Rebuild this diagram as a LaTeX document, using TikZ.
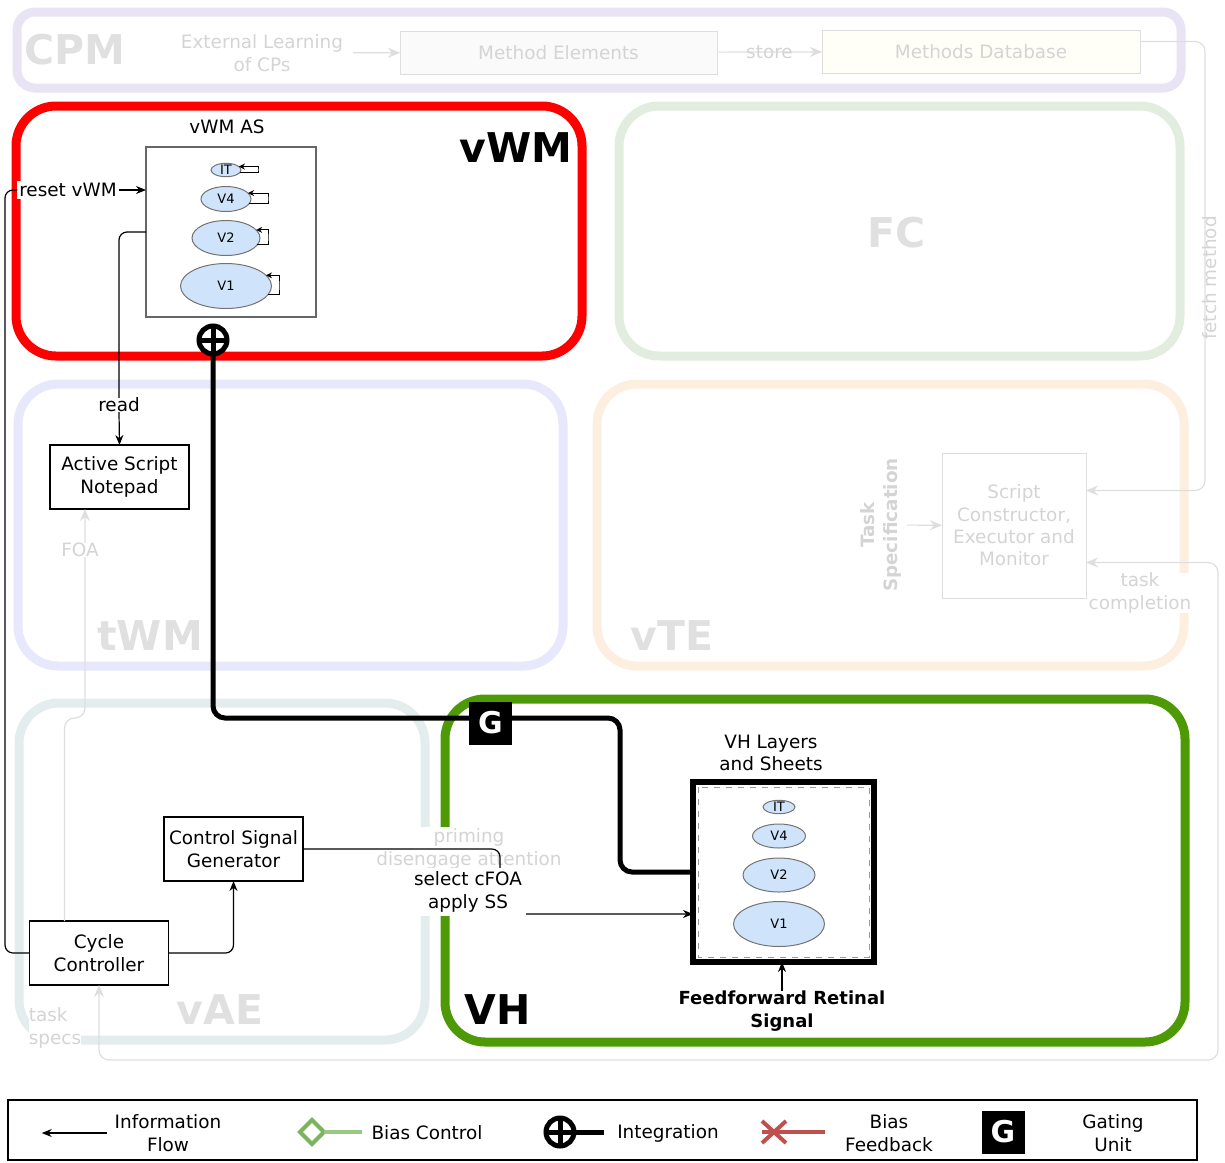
\documentclass[tikz,border=0pt]{standalone}
\usepackage{fontspec}
\setmainfont{DejaVu Sans}
\usetikzlibrary{positioning, arrows.meta, shapes.geometric, calc}

\definecolor{vwmred}{RGB}{255,0,0}
\definecolor{vhgreen}{RGB}{78,154,6}
\definecolor{cpmline}{RGB}{233,228,243}
\definecolor{fcline}{RGB}{226,237,223}
\definecolor{twmline}{RGB}{232,232,252}
\definecolor{vteline}{RGB}{253,239,224}
\definecolor{vaeline}{RGB}{228,237,237}
\definecolor{fadetext}{RGB}{212,212,212}
\definecolor{fadebig}{RGB}{224,224,224}
\definecolor{fadeline}{RGB}{222,222,222}
\definecolor{layerfill}{RGB}{207,228,250}
\definecolor{biasgreen}{RGB}{122,180,92}
\definecolor{biasred}{RGB}{192,80,77}

\begin{document}
\begin{tikzpicture}[x=0.5pt,y=-0.5pt,every node/.style={inner sep=0pt,outer sep=0pt},font=\fontsize{9.2}{11.3}\selectfont,
    region/.style={draw,rounded corners=20pt,line width=4.5pt},
    biglbl/.style={font=\fontsize{20.5}{24}\selectfont\bfseries},
    fadelbl/.style={biglbl,text=fadebig},
    box/.style={draw,line width=0.6pt,align=center,minimum width=69.5pt,minimum height=32pt},
    fadebox/.style={draw=fadeline,line width=0.5pt,align=center,text=fadetext},
    fadetxt/.style={text=fadetext,align=center},
    layer/.style={ellipse,draw=black!55,fill=layerfill,line width=0.5pt,font=\fontsize{6.5}{7}\selectfont},
    flow/.style={-{Stealth[length=5pt,width=4pt]},line width=0.6pt},
    fadeflow/.style={-{Stealth[length=6pt,width=5pt]},draw=fadeline,line width=0.6pt},
    integ/.style={circle,draw,line width=2.5pt,minimum size=14pt,
        path picture={\draw[line width=2.5pt] (path picture bounding box.north) -- (path picture bounding box.south)
            (path picture bounding box.west) -- (path picture bounding box.east);}},
    integline/.style={line width=2.5pt},
    gate/.style={fill=black,text=white,minimum size=21.5pt,font=\fontsize{15}{15}\selectfont\bfseries}]
        \useasboundingbox (0,0) rectangle (1225,1162);
        % 区域
        \node[region,draw=cpmline,rounded corners=9pt,minimum width=582pt,minimum height=38pt] (cpm) at (599,50) {};
        \node[region,draw=vwmred,minimum width=283pt,minimum height=125pt] (vwm) at (299,231) {};
        \node[region,draw=fcline,minimum width=280.5pt,minimum height=125pt] (fc) at (899.5,231) {};
        \node[region,draw=twmline,minimum width=272.5pt,minimum height=141pt] (twm) at (290.5,525) {};
        \node[region,draw=vteline,minimum width=293.5pt,minimum height=141pt] (vte) at (890.5,525) {};
        \node[region,draw=vaeline,minimum width=203pt,minimum height=168.5pt] (vae) at (222,871.5) {};
        \node[region,draw=vhgreen,minimum width=370pt,minimum height=171.5pt] (vh) at (815,870.5) {};
        % 区域名称
        \node[fadelbl] (cpmlbl) at (75,50) {CPM};
        \node[biglbl] (vwmlbl) at (516,148) {vWM};
        \node[fadelbl] (fclbl) at (897,233) {FC};
        \node[fadelbl] (twmlbl) at (150,636) {tWM};
        \node[fadelbl] (vtelbl) at (672,636) {vTE};
        \node[fadelbl] (vaelbl) at (220,1010) {vAE};
        \node[biglbl] (vhlbl) at (498,1010) {VH};
        % CPM
        \node[fadetxt] (extlearn) at (262,53) {External Learning\\of CPs};
        \node[fadebox,fill=black!2,minimum width=158.5pt,minimum height=21.5pt] (methodel) at (558.5,52.5) {Method Elements};
        \node[fadebox,fill=yellow!3,minimum width=159pt,minimum height=21.5pt] (methodsdb) at (981,51.5) {Methods Database};
        \draw[fadeflow,shorten <=5pt] (extlearn) -- (methodel);
        \draw[fadeflow] (methodel) -- node[fadetxt] (storelbl) {store} (methodsdb);
        % vTE
        \node[fadebox,minimum width=72pt,minimum height=72.5pt,font=\fontsize{9.2}{11.2}\selectfont] (scm) at (1014,525.5) {Script\\Constructor,\\Executor and\\Monitor};
        \node[fadetxt,font=\fontsize{9.2}{11.3}\selectfont\bfseries,rotate=90] (taskspec) at (881,525) {Task\\Specification};
        \draw[fadeflow,shorten <=3pt] (taskspec) -- (scm);
        \draw[fadeflow,rounded corners=5pt] ($(methodsdb.east)+(0,-10)$) -- ++(65,0) |- ($(scm.east)+(0,-35)$);
        \node[fadetxt,rotate=90] (fetchlbl) at (1210,278) {fetch method};
        % tWM / vAE
        \node[box] (notepad) at (119.5,477) {Active Script\\Notepad};
        \node[box] (csg) at (233.5,849) {Control Signal\\Generator};
        \node[box] (cycle) at (99,953) {Cycle\\Controller};
        \draw[fadeflow,rounded corners=5pt] ($(cycle.north west)+(35,0)$) -- ++(0,-203) -| ($(notepad.south west)+(35,0)$);
        \node[fadetxt,fill=white] (foalbl) at (80,550) {FOA};
        \draw[fadeflow,{Stealth[length=6pt,width=5pt]}-{Stealth[length=6pt,width=5pt]},rounded corners=5pt] (cycle.south) -- ++(0,75) -| ($(scm.east)+(132,37)$) -- ($(scm.east)+(0,37)$);
        \node[fadetxt,fill=white] (taskdone) at (1140,593) {task\\completion};
        \node[fadetxt,fill=white,align=left] (taskspecs) at (55,1028) {task\\specs};
        % vWM AS
        \node (asttl) at (227,127) {vWM AS};
        \node[draw=black!60,line width=0.6pt,minimum size=85pt] (vwmas) at (231,232) {};
        \foreach \lab/\yy/\w/\h/\lx in {IT/170/30/13/258,V4/199/50/25/268,V2/238/68/35/268,V1/286/91/45/279} {
            \node[layer,minimum width=\w*0.5pt,minimum height=\h*0.5pt] (as-\lab) at (226,\yy) {\lab};
            \draw[-{Stealth[length=3pt,width=3pt]},line width=0.5pt] (as-\lab.-12) -| (\lx,\yy) |- (as-\lab.15);
        }
        \node[integ] (integ) at (213,340) {};
        % VH 层
        \node[align=center] (vhttl) at (771,753) {VH Layers\\and Sheets};
        \node[draw,line width=3pt,minimum width=90.5pt,minimum height=90pt] (vhlayers) at (783.5,872) {};
        \draw[black!40,dashed,line width=0.5pt] ($(vhlayers.north west)+(5,5)$) rectangle ($(vhlayers.south east)+(-5,-5)$);
        \foreach \lab/\yy/\w/\h in {IT/807/32/13,V4/836/53/24,V2/875/72/34,V1/924/91/45} {
            \node[layer,minimum width=\w*0.5pt,minimum height=\h*0.5pt] (vh-\lab) at (779,\yy) {\lab};
        }
        \node[font=\fontsize{9}{11.3}\selectfont\bfseries,align=center] (ffret) at (782,1011) {Feedforward Retinal\\Signal};
        \draw[flow] (ffret.north) -- (ffret.north |- vhlayers.south);
        % 整合通路与门控
        \draw[integline,rounded corners=6pt] (integ.south) |- ($(vhlayers.west)+(-200,-154)$) -| ($(vhlayers.west)+(-73,0)$) -- (vhlayers.west);
        \node[gate] (gate) at (490.5,723) {G};
        % 信息流
        \node[fill=white,inner sep=1pt] (resetlbl) at (68,190) {reset vWM};
        \coordinate (railtop) at (5,190);
        \draw[line width=0.6pt,rounded corners=4pt] (cycle.west) -| (railtop) -- (resetlbl.west);
        \draw[flow] (resetlbl.east) -- (resetlbl.east -| vwmas.west);
        \node (readlbl) at (119,405) {read};
        \draw[line width=0.6pt,rounded corners=4pt] (vwmas.west) -| (readlbl.north);
        \draw[flow] (readlbl.south) -- (notepad.north);
        \draw[flow,rounded corners=4pt] (cycle.east) -| (csg.south);
        \node[fadetxt,fill=white,inner sep=1pt] (primelbl) at (469,849) {priming\\disengage attention};
        \coordinate (sstap) at ($(vhlayers.west)+(0,42)$);
        \draw[flow,rounded corners=4pt] (csg.east) -| ($(sstap)+(-193,0)$) -- (sstap);
        \node[fill=white,inner sep=2pt,align=center] (selectlbl) at (468,892) {select cFOA\\apply SS};
        % 图例
        \node[draw,line width=1pt,minimum width=594.5pt,minimum height=30pt] (legend) at (602.5,1130) {};
        \node[align=center] (lgflow) at (168,1133) {Information\\Flow};
        \draw[flow] ($(lgflow.west)+(-8,0)$) -- ++(-65,0);
        \node[diamond,draw=biasgreen,line width=2pt,minimum size=12pt] (lgdiam) at (312,1132) {};
        \draw[biasgreen!75,line width=2pt] (lgdiam.east) -- ++(38,0);
        \node (lgbias) at (427,1133) {Bias Control};
        \node[integ] (lginteg) at (560,1132) {};
        \draw[integline] (lginteg.east) -- ++(30,0);
        \node (lgint) at (668,1133) {Integration};
        \coordinate (lgfb) at (762,1132);
        \draw[biasred,line width=2pt] (lgfb) -- ++(63,0);
        \draw[biasred,line width=2pt] ($(lgfb)+(0,-11)$) -- ++(24,22) ($(lgfb)+(0,11)$) -- ++(24,-22);
        \node[align=center] (lgfblbl) at (889,1133) {Bias\\Feedback};
        \node[gate] (lggate) at (1003,1132) {G};
        \node[align=center] (lggatelbl) at (1113,1133) {Gating\\Unit};
    \end{tikzpicture}
\end{document}
